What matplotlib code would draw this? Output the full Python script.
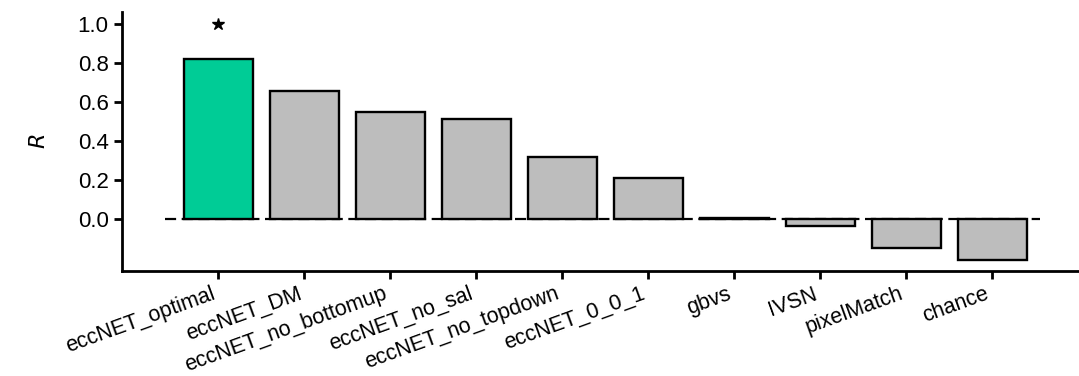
import numpy as np
import matplotlib.pyplot as plt

plt.rcParams['font.family'] = ['Liberation Sans', 'DejaVu Sans']

models = ['eccNET_optimal', 'eccNET_DM', 'eccNET_no_bottomup', 'eccNET_no_sal',
          'eccNET_no_topdown', 'eccNET_0_0_1', 'gbvs', 'IVSN', 'pixelMatch', 'chance']
r_values = [0.82, 0.656, 0.549, 0.513, 0.318, 0.21, 0.004, -0.037, -0.15, -0.21]
bar_colors = ['#00cc96'] + ['#bdbdbd'] * 9
star_pos = [0]

fig = plt.figure(figsize=(10.79, 3.76), dpi=100)
ax = fig.add_axes([0.113, 0.279, 0.887, 0.689])

x = np.arange(len(models))
ax.plot([-0.62, 9.56], [0, 0], color='black', linestyle=(0, (5, 2.5)), lw=1.6, zorder=1)
ax.bar(x, r_values, width=0.8, color=bar_colors, edgecolor='black', linewidth=1.7, zorder=2)
for i in star_pos:
    ax.plot(i, 1.0, marker='*', color='black', markersize=9, zorder=3)

ax.set_xlim(-1.12, 10.01)
ax.set_ylim(-0.267, 1.06)
ax.set_yticks([0.0, 0.2, 0.4, 0.6, 0.8, 1.0])
ax.set_yticklabels(['0.0', '0.2', '0.4', '0.6', '0.8', '1.0'], fontsize=16)
ax.set_xticks(x)
ax.set_xticklabels(models, rotation=20, ha='right', fontsize=15.5)
ax.set_ylabel('$R$', fontsize=16, labelpad=20)

ax.spines['top'].set_visible(False)
ax.spines['right'].set_visible(False)
ax.spines['left'].set_linewidth(2)
ax.spines['bottom'].set_linewidth(2)
ax.tick_params(width=2, length=6)
ax.tick_params(axis='x', pad=3)

fig.savefig('out.png', dpi=100)
